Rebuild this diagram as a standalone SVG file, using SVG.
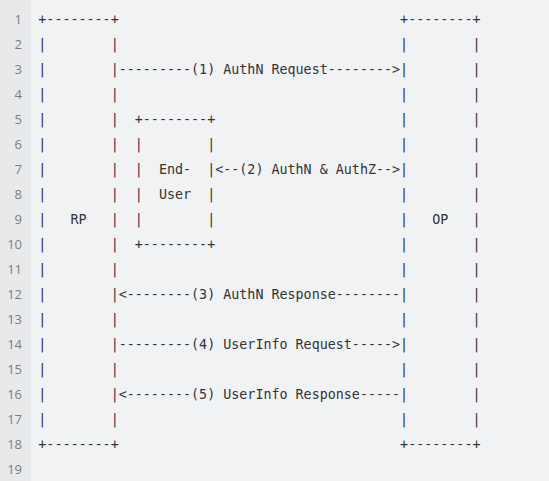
<svg xmlns="http://www.w3.org/2000/svg" width="549" height="481" viewBox="0 0 549 481" xml:space="preserve">
<style>
.c{font-family:"DejaVu Sans Mono","Liberation Mono",monospace;font-size:13.36px;fill:#333333;white-space:pre}
.n{font-family:"Open Sans","Noto Sans","Liberation Sans",sans-serif;font-size:13px;fill:#7a7d82;text-anchor:end}
</style>
<rect x="0" y="0" width="549" height="481" fill="#f1f2f4"/>
<rect x="0" y="0" width="31" height="481" fill="#e8e9eb"/>
<g id="line-numbers">
<text class="n" x="22" y="24">1</text>
<text class="n" x="22" y="49">2</text>
<text class="n" x="22" y="74">3</text>
<text class="n" x="22" y="99">4</text>
<text class="n" x="22" y="124">5</text>
<text class="n" x="22" y="149">6</text>
<text class="n" x="22" y="174">7</text>
<text class="n" x="22" y="199">8</text>
<text class="n" x="22" y="224">9</text>
<text class="n" x="22" y="249">10</text>
<text class="n" x="22" y="274">11</text>
<text class="n" x="22" y="299">12</text>
<text class="n" x="22" y="324">13</text>
<text class="n" x="22" y="349">14</text>
<text class="n" x="22" y="374">15</text>
<text class="n" x="22" y="399">16</text>
<text class="n" x="22" y="424">17</text>
<text class="n" x="22" y="449">18</text>
<text class="n" x="22" y="474">19</text>
</g>
<g id="rp">
<text class="c" x="38.3" y="24" textLength="80.4" lengthAdjust="spacing">+--------+</text>
<text class="c" x="38.3" y="49" textLength="80.4" lengthAdjust="spacing">|        |</text>
<text class="c" x="38.3" y="74" textLength="80.4" lengthAdjust="spacing">|        |</text>
<text class="c" x="38.3" y="99" textLength="80.4" lengthAdjust="spacing">|        |</text>
<text class="c" x="38.3" y="124" textLength="80.4" lengthAdjust="spacing">|        |</text>
<text class="c" x="38.3" y="149" textLength="80.4" lengthAdjust="spacing">|        |</text>
<text class="c" x="38.3" y="174" textLength="80.4" lengthAdjust="spacing">|        |</text>
<text class="c" x="38.3" y="199" textLength="80.4" lengthAdjust="spacing">|        |</text>
<text class="c" x="38.3" y="224" textLength="80.4" lengthAdjust="spacing">|   RP   |</text>
<text class="c" x="38.3" y="249" textLength="80.4" lengthAdjust="spacing">|        |</text>
<text class="c" x="38.3" y="274" textLength="80.4" lengthAdjust="spacing">|        |</text>
<text class="c" x="38.3" y="299" textLength="80.4" lengthAdjust="spacing">|        |</text>
<text class="c" x="38.3" y="324" textLength="80.4" lengthAdjust="spacing">|        |</text>
<text class="c" x="38.3" y="349" textLength="80.4" lengthAdjust="spacing">|        |</text>
<text class="c" x="38.3" y="374" textLength="80.4" lengthAdjust="spacing">|        |</text>
<text class="c" x="38.3" y="399" textLength="80.4" lengthAdjust="spacing">|        |</text>
<text class="c" x="38.3" y="424" textLength="80.4" lengthAdjust="spacing">|        |</text>
<text class="c" x="38.3" y="449" textLength="80.4" lengthAdjust="spacing">+--------+</text>
</g>
<g id="op">
<text class="c" x="400.1" y="24" textLength="80.4" lengthAdjust="spacing">+--------+</text>
<text class="c" x="400.1" y="49" textLength="80.4" lengthAdjust="spacing">|        |</text>
<text class="c" x="400.1" y="74" textLength="80.4" lengthAdjust="spacing">|        |</text>
<text class="c" x="400.1" y="99" textLength="80.4" lengthAdjust="spacing">|        |</text>
<text class="c" x="400.1" y="124" textLength="80.4" lengthAdjust="spacing">|        |</text>
<text class="c" x="400.1" y="149" textLength="80.4" lengthAdjust="spacing">|        |</text>
<text class="c" x="400.1" y="174" textLength="80.4" lengthAdjust="spacing">|        |</text>
<text class="c" x="400.1" y="199" textLength="80.4" lengthAdjust="spacing">|        |</text>
<text class="c" x="400.1" y="224" textLength="80.4" lengthAdjust="spacing">|   OP   |</text>
<text class="c" x="400.1" y="249" textLength="80.4" lengthAdjust="spacing">|        |</text>
<text class="c" x="400.1" y="274" textLength="80.4" lengthAdjust="spacing">|        |</text>
<text class="c" x="400.1" y="299" textLength="80.4" lengthAdjust="spacing">|        |</text>
<text class="c" x="400.1" y="324" textLength="80.4" lengthAdjust="spacing">|        |</text>
<text class="c" x="400.1" y="349" textLength="80.4" lengthAdjust="spacing">|        |</text>
<text class="c" x="400.1" y="374" textLength="80.4" lengthAdjust="spacing">|        |</text>
<text class="c" x="400.1" y="399" textLength="80.4" lengthAdjust="spacing">|        |</text>
<text class="c" x="400.1" y="424" textLength="80.4" lengthAdjust="spacing">|        |</text>
<text class="c" x="400.1" y="449" textLength="80.4" lengthAdjust="spacing">+--------+</text>
</g>
<g id="end-user">
<text class="c" x="134.78" y="124" textLength="80.4" lengthAdjust="spacing">+--------+</text>
<text class="c" x="134.78" y="149" textLength="80.4" lengthAdjust="spacing">|        |</text>
<text class="c" x="134.78" y="174" textLength="80.4" lengthAdjust="spacing">|  End-  |</text>
<text class="c" x="134.78" y="199" textLength="80.4" lengthAdjust="spacing">|  User  |</text>
<text class="c" x="134.78" y="224" textLength="80.4" lengthAdjust="spacing">|        |</text>
<text class="c" x="134.78" y="249" textLength="80.4" lengthAdjust="spacing">+--------+</text>
</g>
<g id="connectors">
<text class="c" x="118.7" y="74" textLength="281.4" lengthAdjust="spacing">---------(1) AuthN Request--------&gt;</text>
<text class="c" x="215.18" y="174" textLength="184.92" lengthAdjust="spacing">&lt;--(2) AuthN &amp; AuthZ--&gt;</text>
<text class="c" x="118.7" y="299" textLength="281.4" lengthAdjust="spacing">&lt;--------(3) AuthN Response--------</text>
<text class="c" x="118.7" y="349" textLength="281.4" lengthAdjust="spacing">---------(4) UserInfo Request-----&gt;</text>
<text class="c" x="118.7" y="399" textLength="281.4" lengthAdjust="spacing">&lt;--------(5) UserInfo Response-----</text>
</g>
</svg>
